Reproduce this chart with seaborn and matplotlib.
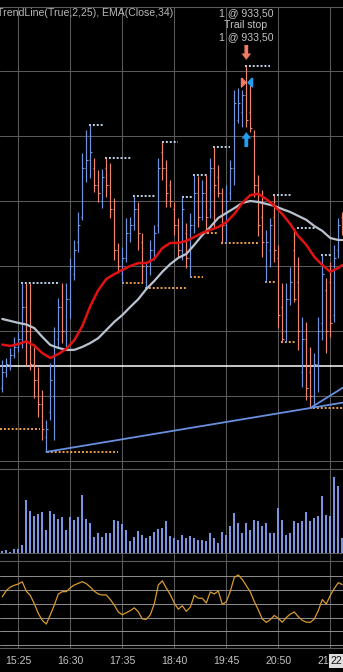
import matplotlib
matplotlib.use("Agg")
import matplotlib.pyplot as plt
import numpy as np
import seaborn as sns

# ---------------- data (5-minute bars, 15:05 .. 22:10) ----------------
highs = [925.11, 925.17, 925.48, 925.82, 925.97, 927.48, 927.48, 927.48, 925.51, 924.89,
         924.18, 923.26, 925.02, 926.12, 927.02, 927.48, 927.48, 928.25, 928.80, 929.66,
         931.48, 932.18, 932.34, 931.32, 930.95, 930.98, 931.32, 931.17, 930.09, 928.71,
         928.58, 929.48, 929.51, 930.15, 929.97, 929.02, 928.12, 928.80, 929.26, 931.32,
         931.82, 931.26, 930.65, 929.97, 929.48, 930.12, 929.32, 929.63, 930.80, 930.77,
         930.65, 930.80, 931.32, 931.66, 931.11, 930.40, 930.49, 931.26, 933.42, 933.48,
         933.42, 934.15, 933.57, 932.18, 930.80, 930.34, 929.11, 929.48, 930.18, 928.65,
         927.48, 927.48, 927.97, 929.17, 928.28, 926.43, 926.28, 925.51, 925.32, 926.43,
         928.34, 927.63, 928.12, 928.65, 929.48, 929.66]
lows = [924.12, 924.58, 924.80, 925.17, 925.35, 925.48, 924.95, 924.80, 923.94, 923.35,
        922.65, 922.28, 923.26, 922.65, 925.48, 925.63, 925.51, 926.40, 927.57, 928.43,
        929.42, 930.58, 930.71, 930.28, 929.97, 929.78, 930.12, 929.48, 928.18, 927.78,
        927.48, 928.12, 928.74, 929.11, 928.49, 927.51, 927.32, 927.72, 928.18, 929.02,
        930.65, 929.82, 929.82, 928.95, 928.28, 928.18, 927.94, 927.66, 929.02, 929.20,
        929.42, 929.02, 929.48, 929.17, 930.12, 928.71, 928.71, 930.03, 930.49, 932.40,
        932.28, 932.28, 932.12, 930.12, 928.92, 928.28, 927.51, 927.97, 928.12, 926.09,
        925.66, 925.66, 926.80, 926.89, 925.42, 924.28, 923.88, 923.63, 923.66, 924.12,
        925.72, 925.32, 925.82, 926.28, 928.25, 928.95]
opens = [924.25, 924.75, 925.00, 925.25, 925.50, 925.75, 926.75, 926.00, 925.00, 924.50,
         923.75, 922.75, 923.50, 924.00, 925.75, 926.75, 926.00, 927.00, 927.75, 928.75,
         929.50, 931.00, 931.25, 931.00, 930.50, 930.00, 931.00, 930.50, 929.75, 928.50,
         927.75, 928.25, 929.00, 929.25, 929.75, 928.75, 927.50, 928.00, 928.50, 929.25,
         931.50, 931.00, 930.50, 929.75, 929.25, 928.50, 929.00, 928.25, 929.25, 930.25,
         929.50, 930.25, 929.75, 931.00, 930.75, 930.25, 929.25, 930.25, 931.00, 932.50,
         932.75, 933.25, 932.75, 932.00, 930.50, 929.50, 928.00, 928.50, 929.50, 928.25,
         926.75, 926.00, 927.00, 928.50, 927.50, 924.75, 925.75, 924.75, 924.00, 925.00,
         926.25, 927.25, 927.50, 926.50, 928.50, 929.50]
closes = [924.75, 925.00, 925.25, 925.50, 925.75, 926.75, 926.00, 925.00, 924.50, 923.75,
          923.00, 923.00, 924.50, 925.50, 926.75, 926.00, 927.00, 928.00, 928.50, 929.25,
          931.00, 931.25, 931.50, 930.50, 930.25, 930.75, 930.50, 929.75, 928.50, 928.00,
          928.25, 929.00, 929.25, 929.75, 929.00, 928.00, 928.00, 928.50, 929.00, 931.00,
          931.00, 930.25, 930.00, 929.25, 928.50, 929.75, 928.25, 929.25, 930.25, 929.50,
          930.25, 929.50, 931.00, 930.50, 930.25, 929.25, 930.00, 931.00, 933.00, 933.00,
          933.25, 932.50, 932.25, 930.50, 929.25, 928.75, 928.75, 929.25, 928.50, 926.50,
          925.75, 927.00, 927.50, 927.00, 926.00, 925.75, 924.25, 924.00, 925.00, 926.00,
          927.75, 926.00, 926.25, 928.25, 929.25, 929.25]
volume = [200, 270, 100, 370, 400, 770, 5300, 4170, 3670, 3930,
          4130, 2270, 4170, 3870, 3370, 3570, 2270, 3570, 3330, 3570,
          5770, 3370, 3000, 1570, 1970, 1570, 1970, 1970, 3270, 3170,
          2870, 2270, 1170, 1570, 2170, 1770, 1470, 1670, 2070, 2370,
          2470, 3170, 1670, 1470, 1270, 1770, 1470, 1670, 1470, 1270,
          1270, 1170, 1970, 1470, 970, 2070, 1770, 2670, 3970, 2970,
          1970, 2970, 2270, 3270, 3170, 2670, 2970, 1970, 1970, 4470,
          3270, 1770, 1970, 3170, 2970, 3170, 4070, 3170, 3470, 3670,
          5670, 3770, 3670, 7570, 6670, 1470]
osc = [65, 69.5, 72, 73.3, 74.2, 75.8, 69, 66, 60, 53,
       48, 45.3, 52, 59, 67, 68.7, 68.7, 71.5, 73.5, 74.7,
       75.9, 74.5, 72, 69, 67, 66.3, 66.3, 63, 59, 54,
       52, 53.5, 55, 57, 54.2, 49, 48.7, 52, 60, 73.5,
       76.5, 71.3, 66.5, 60.5, 56, 58.5, 54.5, 57.5, 66, 64,
       63.9, 60.5, 68.5, 67, 69.2, 59.5, 61.4, 69, 79, 80.7,
       77.5, 73, 68.5, 61.5, 55.5, 49, 46.5, 48.5, 51.5, 49.4,
       46.6, 50, 52.5, 54, 50.6, 48, 46.7, 46.5, 49, 55,
       63, 59.8, 66, 71, 75.2, 73.8]

# moving averages read every second bar
ma_bars = list(range(0, 85, 2)) + [85]
ma_fast = [925.58, 925.54, 925.60, 925.68, 925.55, 925.32, 925.17, 925.29, 925.45, 925.72,
           926.15, 926.77, 927.26, 927.60, 927.75, 927.88, 928.00, 928.09, 928.09, 928.22,
           928.55, 928.71, 928.71, 928.77, 928.89, 929.02, 929.11, 929.20, 929.35, 929.60,
           929.94, 930.18, 930.22, 930.06, 929.85, 929.60, 929.29, 928.92, 928.65, 928.28,
           928.03, 927.82, 927.94, 928.03]
ema34 = [926.37, 926.31, 926.25, 926.20, 926.09, 925.82, 925.57, 925.48, 925.42, 925.42,
         925.51, 925.63, 925.78, 926.03, 926.28, 926.49, 926.74, 926.98, 927.29, 927.54,
         927.82, 928.06, 928.25, 928.37, 928.65, 928.95, 929.20, 929.48, 929.63, 929.78,
         929.94, 930.00, 929.97, 929.91, 929.85, 929.75, 929.66, 929.54, 929.42, 929.23,
         929.08, 928.86, 928.80, 928.80]

# swing high / low markers (start bar, end bar, price)
hi_start = [4.7, 21.7, 25.7, 32.7, 39.9, 44.9, 47.7, 52.7, 60.7, 67.7, 73.7, 79.7]
hi_end = [14.4, 25.2, 32.2, 38.2, 43.9, 47.4, 51.2, 56.9, 66.9, 72.2, 78.2, 82.4]
hi_price = [927.48, 932.34, 931.32, 930.15, 931.82, 930.12, 930.80, 931.66, 934.15, 930.18, 929.17, 928.34]
lo_start = [-0.6, 11.2, 29.9, 35.7, 46.9, 51.2, 54.7, 65.7, 69.7, 77.7]
lo_end = [9.4, 28.9, 35.2, 46.2, 50.2, 53.9, 63.9, 68.2, 73.2, 85.2]
lo_price = [922.98, 922.28, 927.48, 927.32, 927.66, 929.02, 928.71, 927.51, 925.66, 923.63]

# trend lines (bar, price)
trend1_bars = [11, 77]
trend1_prices = [922.28, 923.63]
trend2_bars = [77, 85.2]
trend2_prices = [923.63, 924.26]
level_price = 924.92

trade_bar = 61
trade_price = 933.65
time_labels = ["15:25", "16:30", "17:35", "18:40", "19:45", "20:50", "21:55"]
label_bars = [4, 17, 30, 43, 56, 69, 82]
title = "TrendLine(True,2,25), EMA(Close,34)"
trade_text = ["1 @ 933,50", "Trail stop", "1 @ 933,50"]

# ---------------- styling ----------------
sns.set_theme(style="dark", rc={"axes.facecolor": "black", "figure.facecolor": "black"})
plt.rcParams['font.family'] = ['Liberation Sans', 'DejaVu Sans']

W, H = 343, 672
fig = plt.figure(figsize=(W / 100, H / 100), dpi=100)
fig.patch.set_facecolor('black')


def px_rect(top, bottom):
    return [0, 1 - bottom / H, 1, (bottom - top) / H]


ax_p = fig.add_axes(px_rect(7, 469))
ax_v = fig.add_axes(px_rect(469, 561))
ax_o = fig.add_axes(px_rect(561, 648))

GRID = '#5a5a5a'
BLUE = '#7094e0'
SALMON = '#ef876f'
TXT = '#c4c4c4'
n = len(highs)
bars = np.arange(n)

for ax in (ax_p, ax_v, ax_o):
    ax.set_facecolor('black')
    ax.set_xlim(-0.575, 85.175)
    ax.set_xticks([])
    ax.set_yticks([])
    ax.grid(False)
    for s in ('left', 'right'):
        ax.spines[s].set_visible(False)
    for s in ('top', 'bottom'):
        ax.spines[s].set_color(GRID)
        ax.spines[s].set_linewidth(0.8)
    for g in label_bars:
        ax.axvline(g, color=GRID, lw=0.75, zorder=0)

# ---- price panel ----
ax_p.set_ylim(921.754, 935.969)
for lvl in [922, 924, 926, 928, 930, 932, 934]:
    ax_p.axhline(lvl, color=GRID, lw=0.75, zorder=0)

cols = [BLUE if c >= o else SALMON for o, c in zip(opens, closes)]
ax_p.vlines(bars, lows, highs, colors=cols, lw=0.85, zorder=3)
ax_p.hlines(opens, bars - 0.4, bars, colors=cols, lw=0.8, zorder=3)
ax_p.hlines(closes, bars, bars + 0.4, colors=cols, lw=0.8, zorder=3)

ax_p.hlines(hi_price, hi_start, hi_end, colors='#bcd6ee', linestyles=(0, (1, 1)), lw=1.4, zorder=2)
ax_p.hlines(lo_price, lo_start, lo_end, colors='#eea042', linestyles=(0, (1, 1)), lw=1.4, zorder=2)

ax_p.axhline(level_price, color='white', lw=1.1, zorder=2)

sns.lineplot(x=ma_bars, y=ema34, ax=ax_p, color='#b9c3cf', lw=1.6, zorder=4, sort=False)
sns.lineplot(x=ma_bars, y=ma_fast, ax=ax_p, color='#e01212', lw=1.8, zorder=5, sort=False)

slope = (trend1_prices[1] - trend1_prices[0]) / (trend1_bars[1] - trend1_bars[0])
t1x = trend1_bars + [85.2]
t1y = trend1_prices + [trend1_prices[1] + slope * (85.2 - trend1_bars[1])]
ax_p.plot(t1x, t1y, color='#6790e0', lw=1.3, zorder=6)
ax_p.plot(trend2_bars, trend2_prices, color='#6790e0', lw=1.3, zorder=6)

# trade markers
ax_p.arrow(trade_bar, 934.80, 0, -0.46, width=0.95, head_width=2.4, head_length=0.2,
           length_includes_head=True, color='#f07a66', zorder=7, lw=0)
ax_p.arrow(trade_bar, 931.66, 0, 0.46, width=0.95, head_width=2.4, head_length=0.2,
           length_includes_head=True, color='#1fa0f0', zorder=7, lw=0)
ax_p.plot([trade_bar - 1.33], [trade_price], marker=[(0, 1), (0, -1), (1, 0), (0, 1)],
          ms=6.5, color='#f07a66', ls='none', zorder=8)
ax_p.plot([trade_bar + 1.43], [trade_price], marker=[(0, 1), (0, -1), (-1, 0), (0, 1)],
          ms=6.5, color='#1fa0f0', ls='none', zorder=8)

# ---- volume panel ----
ax_v.set_ylim(-800, 8400)
ax_v.axhline(0, color=GRID, lw=0.8, zorder=0)
ax_v.bar(bars, volume, width=0.55, color='#7b94e4', edgecolor='none', linewidth=0, zorder=3)

# ---- oscillator panel ----
ax_o.set_ylim(28.01, 90.83)
for lvl in [30, 40, 50, 60, 70, 80]:
    ax_o.axhline(lvl, color='#8a8a8a', lw=0.75, zorder=0)
sns.lineplot(x=bars, y=osc, ax=ax_o, color='#d99a2c', lw=0.9, zorder=3)

for ax in (ax_p, ax_v, ax_o):
    ax.set_xlabel('')
    ax.set_ylabel('')
    ax.set_xlim(-0.575, 85.175)
    if ax.get_legend() is not None:
        ax.get_legend().remove()

# time labels
tr = ax_o.get_xaxis_transform()
for b, lab in zip(label_bars, time_labels):
    ax_o.text(b, -16 / 87, lab, transform=tr, ha='center', va='baseline',
              color=TXT, fontsize=7.6, clip_on=False)
fig.text(336 / W, 1 - 664 / H, "22", ha='center', va='baseline', fontsize=7.6,
         color='#101010', zorder=10,
         bbox=dict(facecolor='#dedede', edgecolor='none', boxstyle='square,pad=0.15'))

# header texts
fig.text(-3 / W, 1 - 16.5 / H, title, ha='left', va='baseline', color='#b8b8b8', fontsize=7.6)
for txt, yb in zip(trade_text, [16.5, 28, 40]):
    fig.text(246 / W, 1 - yb / H, txt, ha='center', va='baseline', color=TXT, fontsize=7.6)

fig.savefig("out.png", dpi=100, facecolor='black')
